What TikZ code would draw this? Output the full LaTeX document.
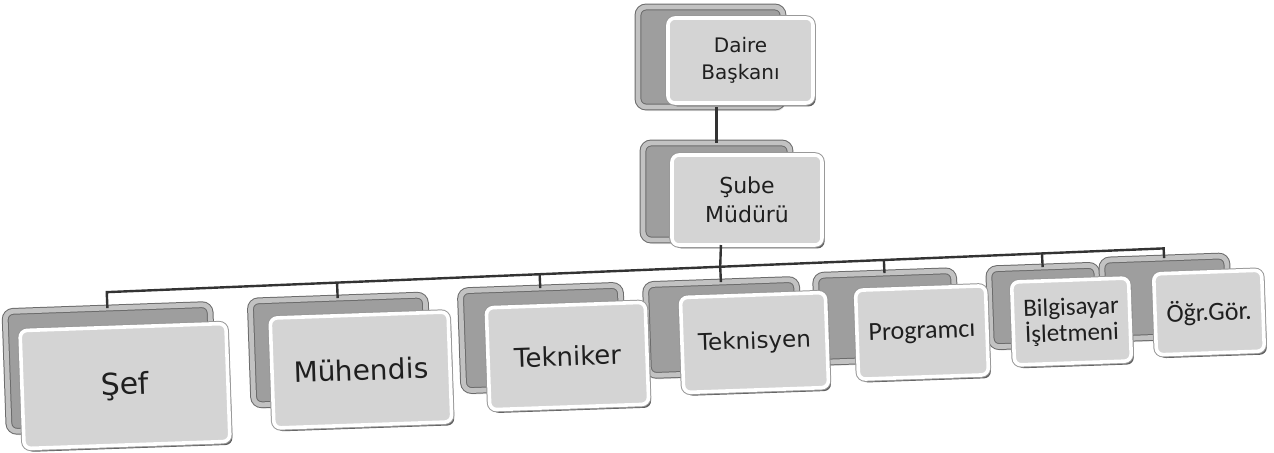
\documentclass[tikz,border=0pt]{standalone}
\usepackage{fontspec}
\setmainfont{DejaVu Sans}
\newfontfamily\calib{Carlito}
\usetikzlibrary{shadows,calc}

\begin{document}
\begin{tikzpicture}[x=0.5pt,y=-0.5pt,
  sz/.style 2 args={minimum width=#1*0.5pt, minimum height=#2*0.5pt},
  backbox/.style={drop shadow={shadow xshift=1pt, shadow yshift=-2pt, fill=black!35, opacity=0.3},
    draw=black!58, line width=0.5pt, double=black!24, double distance=2.4pt,
    rounded corners=4pt, fill=black!38, inner sep=0pt, outer sep=0pt},
  frontbox/.style={drop shadow={shadow xshift=1.3pt, shadow yshift=-1.7pt, fill=black!70, opacity=0.9},
    preaction={draw=black!40, line width=2.8pt},
    fill=black!17, draw=white, line width=1.8pt, rounded corners=3.5pt,
    inner sep=0pt, outer sep=0pt, text=black!88, align=center},
  conn/.style={draw=black!80, line width=1.2pt},
  tilt/.style={rotate=2}
]
\useasboundingbox (0,0) rectangle (1274,452);

% back boxes
\node[backbox, sz={145}{100}] (dback) at (710.5,57) {};
\node[backbox, sz={147}{97}] (sback) at (716.5,191.5) {};
\node[backbox, tilt, sz={205}{120}] (b1) at (109.5,368) {};
\node[backbox, tilt, sz={175}{104}] (b2) at (339.5,350) {};
\node[backbox, tilt, sz={160}{100}] (b3) at (542,338) {};
\node[backbox, tilt, sz={151}{91}] (b4) at (722.5,327.5) {};
\node[backbox, tilt, sz={138}{87}] (b5) at (886,316.5) {};
\node[backbox, tilt, sz={108}{78}] (b6) at (1044,306) {};
\node[backbox, tilt, sz={125}{79}] (b7) at (1165.5,297.5) {};

% front boxes
\node[frontbox, sz={145}{85}, font=\fontsize{10}{13.5}\selectfont] (dfront) at (740.5,60.5) {Daire\\Başkanı};
\node[frontbox, sz={150}{90}, font=\fontsize{11}{14.5}\selectfont] (sfront) at (747,200) {Şube\\Müdürü};
\node[frontbox, tilt, sz={206}{118}, font=\fontsize{15}{18}\selectfont] (f1) at (125,386) {Şef};
\node[frontbox, tilt, sz={178}{110}, font=\fontsize{14}{17}\selectfont] (f2) at (361,370) {Mühendis};
\node[frontbox, tilt, sz={159}{102}, font=\fontsize{13}{16}\selectfont] (f3) at (567.5,356) {Tekniker};
\node[frontbox, tilt, sz={145}{95}, font=\fontsize{11.5}{14}\selectfont] (f4) at (754.5,342.5) {Teknisyen};
\node[frontbox, tilt, sz={130}{89}, font=\calib\fontsize{13}{15}\selectfont] (f5) at (922,332.5) {Programcı};
\node[frontbox, tilt, sz={117}{83}, font=\calib\fontsize{12.5}{13}\selectfont] (f6) at (1071.5,321.5) {Bilgisayar\\İşletmeni};
\node[frontbox, tilt, sz={108}{81}, font=\calib\fontsize{13}{15}\selectfont] (f7) at (1209,312.5) {Öğr.Gör.};

% connectors
\coordinate (busL) at (110,292);
\coordinate (busR) at (1173,248);
\foreach \i in {1,...,7}
  \coordinate (j\i) at ($(busL)!(b\i.north)!(busR)$);

\draw[conn] (sback.north |- dback.south) -- (sback.north);
\draw[conn] (b4.north |- sfront.south) -- (j4);
\draw[conn] (b1.north) -- (j1) -- (j7) -- (b7.north);
\foreach \i in {2,...,6}
  \draw[conn] (j\i) -- (b\i.north);
\end{tikzpicture}
\end{document}
